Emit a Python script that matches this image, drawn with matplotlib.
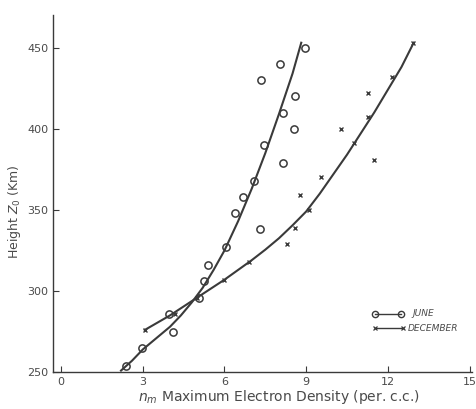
import numpy as np
import matplotlib.pyplot as plt

june_n = [8.94, 8.05, 7.35, 8.60, 8.15, 8.54, 7.44, 8.15, 7.08, 6.69,
          6.39, 7.32, 6.05, 5.38, 5.23, 5.07, 3.95, 4.12, 2.97, 2.37]
june_h = [450, 440, 430, 420, 410, 400, 390, 379, 368, 358,
          348, 338, 327, 316, 306, 296, 286, 275, 265, 254]

dec_n = [3.07, 4.20, 5.00, 5.99, 6.90, 8.28, 8.60, 9.09, 8.78, 9.54,
         11.50, 10.77, 10.28, 11.28, 11.28, 12.16, 12.92]
dec_h = [276, 286, 296, 307, 318, 329, 339, 350, 359, 370,
         381, 391, 400, 407, 422, 432, 453]

# hand drawn fit curves
june_fit_n = [2.2, 2.6, 3.0, 3.5, 4.0, 4.4, 4.8, 5.2, 5.6, 6.0, 6.5, 7.0, 7.5, 8.0, 8.5, 8.82]
june_fit_h = [251, 257, 264, 271, 278, 285, 293, 302, 313, 325, 343, 363, 385, 409, 434, 453]

dec_fit_n = [3.07, 4.0, 5.0, 6.0, 7.0, 7.5, 8.0, 8.5, 9.0, 9.5, 10.0, 10.5, 11.0, 11.5, 12.0, 12.5, 12.95]
dec_fit_h = [276, 285, 296, 307, 319, 325.5, 332.5, 340.5, 349, 360, 372, 384, 397, 410, 424, 438, 453]

ink = '#3a3a3a'
txt = '#4a4a4a'

fig = plt.figure(figsize=(4.77, 4.09), dpi=100)
ax = fig.add_axes([0.111, 0.090, 0.879, 0.873])

ax.plot(june_fit_n, june_fit_h, color=ink, lw=1.5)
ax.plot(dec_fit_n, dec_fit_h, color=ink, lw=1.5)
ax.plot(june_n, june_h, 'o', mfc='none', mec=ink, mew=1.1, ms=5.2, ls='none')
ax.plot(dec_n, dec_h, 'x', color=ink, mew=1.0, ms=3.5, ls='none')

ax.set_xlim(-0.3, 15.1)
ax.set_ylim(250, 470)
ax.set_xticks([0, 3, 6, 9, 12, 15])
ax.set_yticks([250, 300, 350, 400, 450])
ax.tick_params(direction='in', length=4, colors=ink, labelcolor=txt, labelsize=8)

for s in ['top', 'right']:
    ax.spines[s].set_visible(False)
for s in ['left', 'bottom']:
    ax.spines[s].set_color(ink)
    ax.spines[s].set_linewidth(1.0)

ax.set_xlabel(r'$n_m$ Maximum Electron Density (per. c.c.)', color=txt, fontsize=10, va='center')
ax.set_ylabel(r'Height $Z_0$ (Km)', color=txt, fontsize=9, va='center')
ax.xaxis.set_label_coords(0.54, -0.07)
ax.yaxis.set_label_coords(-0.092, 0.45)

# legend drawn by hand like the original
ax.plot([11.52, 12.48], [286, 286], color=ink, lw=1.0)
ax.plot([11.52, 12.48], [286, 286], 'o', mfc='none', mec=ink, mew=1.0, ms=4.5)
ax.text(12.9, 286, 'JUNE', fontsize=6.5, color=txt, style='italic', va='center')
ax.plot([11.52, 12.55], [277, 277], color=ink, lw=1.0)
ax.plot([11.52, 12.55], [277, 277], 'x', color=ink, mew=0.9, ms=3.5)
ax.text(12.72, 277, 'DECEMBER', fontsize=6.5, color=txt, style='italic', va='center')

fig.savefig('out.png', dpi=100)
